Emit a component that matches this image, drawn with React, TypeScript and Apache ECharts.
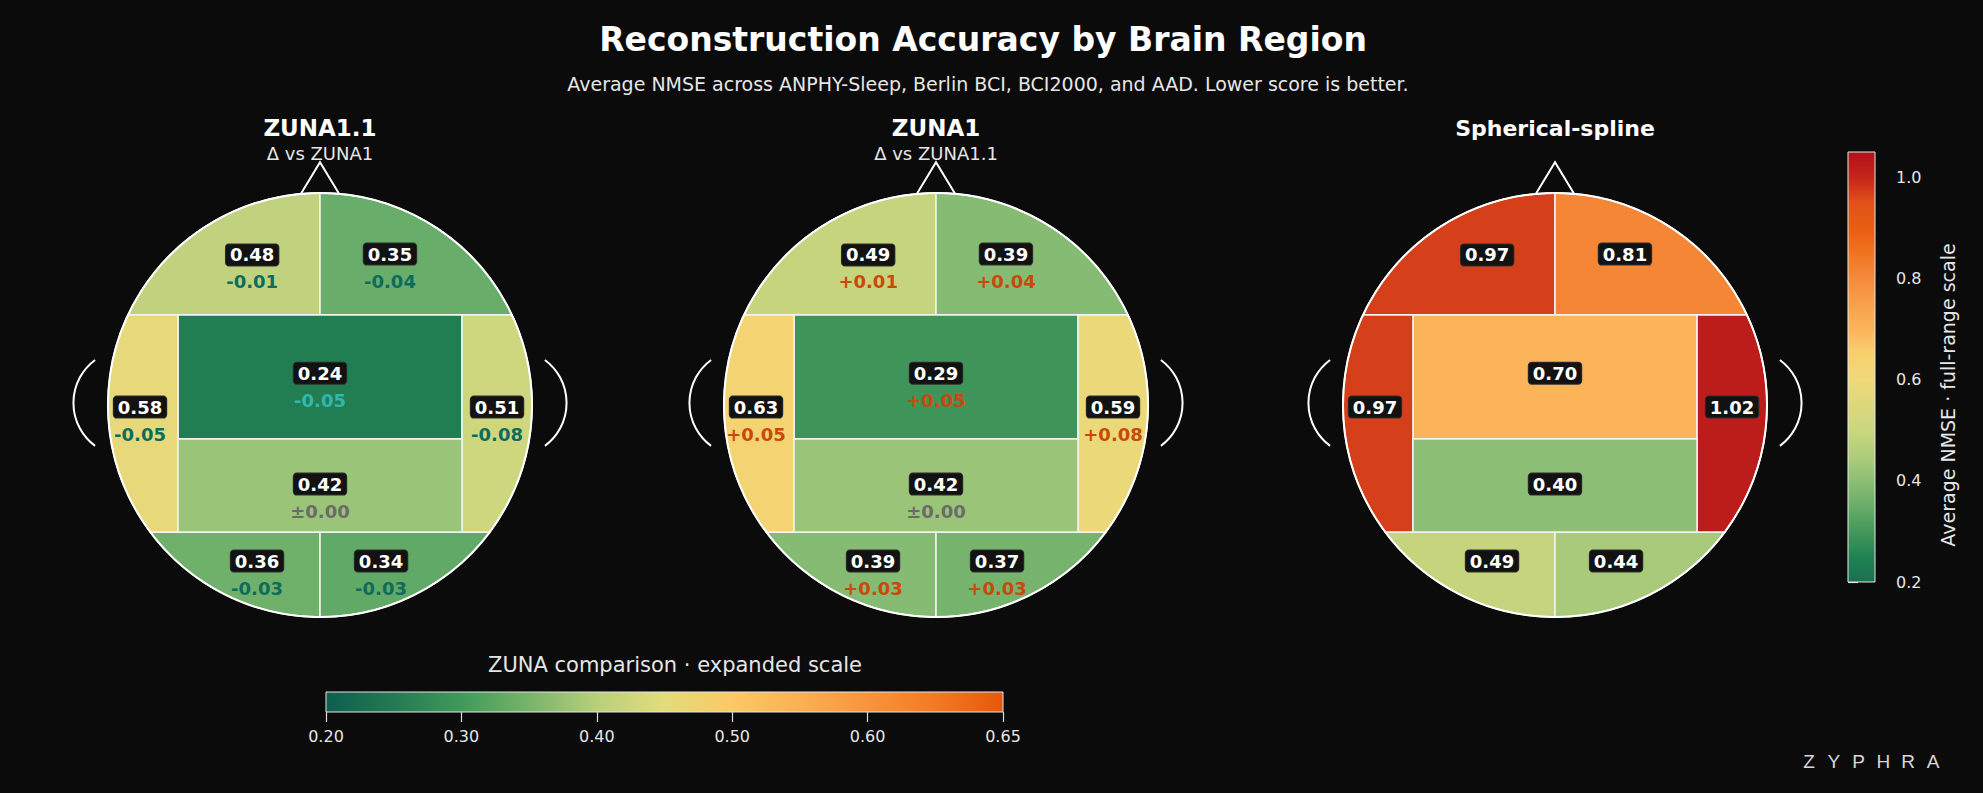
import React, { useEffect, useRef } from "react";
import * as echarts from "echarts";

// ---------------- data ----------------
const regionNames = [
  "Frontal L",
  "Frontal R",
  "Central",
  "Temporal L",
  "Temporal R",
  "Parietal",
  "Occipital L",
  "Occipital R",
];
const zuna11Values = [0.48, 0.35, 0.24, 0.58, 0.51, 0.42, 0.36, 0.34];
const zuna1Values = [0.49, 0.39, 0.29, 0.63, 0.59, 0.42, 0.39, 0.37];
const splineValues = [0.97, 0.81, 0.7, 0.97, 1.02, 0.4, 0.49, 0.44];

const panelTitles = ["ZUNA1.1", "ZUNA1", "Spherical-spline"];
const panelSubtitles = ["Δ vs ZUNA1", "Δ vs ZUNA1.1", ""];

const fullRangeMin = 0.2;
const fullRangeMax = 1.05;
const fullRangeTicks = [0.2, 0.4, 0.6, 0.8, 1.0];
const fullRangeName = "Average NMSE · full-range scale";
// colours every 0.05 from 0.20 to 1.05
const fullRangeColors = [
  "#1a7050", "#218253", "#45985b", "#68ad69", "#8cbe75", "#b0cd7b",
  "#cad67e", "#dcd87c", "#efd978", "#f8d06e", "#fbb45a", "#f8a04c",
  "#f58a3c", "#f07420", "#e85e12", "#e0521a", "#c4241a", "#b0121a",
];
const expandedTickLabels = ["0.20", "0.30", "0.40", "0.50", "0.60", "0.65"];
const expandedColors = [
  "#0d5e4f", "#237a52", "#3f9a5a", "#78b46a", "#b8d07a", "#e3dc7c",
  "#fcc865", "#fbb054", "#f8943c", "#f37a22", "#e8560c",
];

// ---------------- layout ----------------
const FONT = '"DejaVu Sans", sans-serif';
const HEAD_CX = [320, 936, 1555];
const HEAD_CY = 405;
const HEAD_R = 212;
const YT = -0.425; // bottom of frontal band
const YM = 0.16; // central / parietal split
const YB = 0.6; // bottom of middle band
const XI = 0.67; // temporal inner edge

const labelAnchors: number[][] = [
  [-0.32, -0.708],
  [0.33, -0.712],
  [0, -0.15],
  [-0.849, 0.01],
  [0.835, 0.01],
  [0, 0.373],
  [-0.297, 0.736],
  [0.288, 0.736],
];

const DEG = Math.PI / 180;
const aT = Math.asin(-YT) / DEG;
const aB = Math.asin(YB) / DEG;

function arcPts(a0: number, a1: number, n = 60): number[][] {
  const pts: number[][] = [];
  for (let i = 0; i <= n; i++) {
    const a = (a0 + ((a1 - a0) * i) / n) * DEG;
    pts.push([Math.cos(a), Math.sin(a)]);
  }
  return pts;
}

function regionShape(i: number): number[][] {
  switch (i) {
    case 0:
      return [...arcPts(270, 180 + aT), [0, YT]];
    case 1:
      return [...arcPts(270, 360 - aT), [0, YT]];
    case 2:
      return [[-XI, YT], [XI, YT], [XI, YM], [-XI, YM]];
    case 3:
      return [...arcPts(180 + aT, 180 - aB), [-XI, YB], [-XI, YT]];
    case 4:
      return [...arcPts(-aT, aB), [XI, YB], [XI, YT]];
    case 5:
      return [[-XI, YM], [XI, YM], [XI, YB], [-XI, YB]];
    case 6:
      return [...arcPts(180 - aB, 90), [0, YB]];
    default:
      return [...arcPts(aB, 90), [0, YB]];
  }
}

function diff(a: number[], b: number[]) {
  return a.map((v, i) => Math.round((v - b[i]) * 100) / 100);
}
function fmtDelta(d: number) {
  if (Math.abs(d) < 1e-9) return "±0.00";
  return (d > 0 ? "+" : "-") + Math.abs(d).toFixed(2);
}
function deltaColor(d: number, v: number) {
  if (Math.abs(d) < 1e-9) return "#6b6b6b";
  if (d > 0) return "#c9490c";
  return v < 0.28 ? "#34b5ae" : "#0f6b5c";
}

function makeRegionRenderer(deltas: number[] | null) {
  return (params: any, api: any) => {
    const idx = api.value(0) as number;
    const val = api.value(1) as number;
    const pts = regionShape(idx).map((p) => api.coord(p));
    const a = api.coord(labelAnchors[idx]);
    const children: any[] = [
      {
        type: "polygon",
        shape: { points: pts },
        style: { fill: api.visual("color"), stroke: "#f2f2f2", lineWidth: 1.6 },
      },
      {
        type: "text",
        x: a[0],
        y: a[1],
        z2: 10,
        style: {
          text: val.toFixed(2),
          fill: "#ffffff",
          fontSize: 18,
          fontWeight: "bold",
          fontFamily: FONT,
          align: "center",
          verticalAlign: "middle",
          backgroundColor: "#121212",
          borderColor: "#2e2e2e",
          borderWidth: 1,
          borderRadius: 3,
          padding: [2, 4, 1, 4],
        },
      },
    ];
    if (deltas) {
      const d = deltas[idx];
      children.push({
        type: "text",
        x: a[0],
        y: a[1] + 27,
        z2: 10,
        style: {
          text: fmtDelta(d),
          fill: deltaColor(d, val),
          fontSize: 18,
          fontWeight: "bold",
          fontFamily: FONT,
          align: "center",
          verticalAlign: "middle",
        },
      });
    }
    return { type: "group", children };
  };
}

const outlineRender = (params: any, api: any) => {
  const c = api.coord([0, 0]);
  const u = Math.abs(api.size([1, 1])[0]);
  const nose = [
    [-0.09, -0.996],
    [0, -1.145],
    [0.09, -0.996],
  ].map((p) => api.coord(p));
  const le = api.coord([-0.911, -0.01]);
  const re = api.coord([0.911, -0.01]);
  const er = 0.252 * u;
  const line = { fill: "none", stroke: "#ffffff", lineWidth: 2 };
  return {
    type: "group",
    children: [
      { type: "circle", shape: { cx: c[0], cy: c[1], r: u }, style: { ...line } },
      { type: "polyline", shape: { points: nose }, style: { ...line } },
      {
        type: "arc",
        shape: { cx: le[0], cy: le[1], r: er, startAngle: 126.5 * DEG, endAngle: 233.5 * DEG, clockwise: true },
        style: { ...line },
      },
      {
        type: "arc",
        shape: { cx: re[0], cy: re[1], r: er, startAngle: -53.5 * DEG, endAngle: 53.5 * DEG, clockwise: true },
        style: { ...line },
      },
    ],
  };
};

const vbarRender = (params: any) => {
  const cs = params.coordSys;
  const stops = fullRangeColors.map((c, i) => ({ offset: i / (fullRangeColors.length - 1), color: c }));
  return {
    type: "rect",
    shape: { x: cs.x, y: cs.y, width: cs.width, height: cs.height },
    style: { fill: new echarts.graphic.LinearGradient(0, 1, 0, 0, stops), stroke: "#e6e6e6", lineWidth: 1 },
  };
};
const hbarRender = (params: any) => {
  const cs = params.coordSys;
  const stops = expandedColors.map((c, i) => ({ offset: i / (expandedColors.length - 1), color: c }));
  return {
    type: "rect",
    shape: { x: cs.x, y: cs.y, width: cs.width, height: cs.height },
    style: { fill: new echarts.graphic.LinearGradient(0, 0, 1, 0, stops), stroke: "#e6e6e6", lineWidth: 1 },
  };
};

function txt(x: number, y: number, text: string, size: number, weight: string, color: string, family = FONT) {
  return {
    type: "text",
    x,
    y,
    style: {
      text,
      fill: color,
      fontSize: size,
      fontWeight: weight,
      fontFamily: family,
      align: "center",
      textAlign: "center",
      verticalAlign: "middle",
      textVerticalAlign: "middle",
    },
  };
}

export default function App() {
  const ref = useRef<HTMLDivElement>(null);
  useEffect(() => {
    if (!ref.current) return;
    document.body.style.background = "#0b0b0b";
    const chart = echarts.init(ref.current, null, { renderer: "svg" });

    const panels = [zuna11Values, zuna1Values, splineValues];
    const deltas = [diff(zuna11Values, zuna1Values), diff(zuna1Values, zuna11Values), null];

    const grids: any[] = HEAD_CX.map((cx) => ({
      left: cx - HEAD_R,
      top: HEAD_CY - HEAD_R,
      width: HEAD_R * 2,
      height: HEAD_R * 2,
    }));
    grids.push({ left: 1848, top: 152, width: 27, height: 430 });
    grids.push({ left: 326, top: 692, width: 677, height: 20 });

    const xAxes: any[] = HEAD_CX.map((_, i) => ({ type: "value", gridIndex: i, min: -1, max: 1, show: false }));
    const yAxes: any[] = HEAD_CX.map((_, i) => ({
      type: "value",
      gridIndex: i,
      min: -1,
      max: 1,
      inverse: true,
      show: false,
    }));
    xAxes.push({ type: "value", gridIndex: 3, min: 0, max: 1, show: false });
    yAxes.push({
      type: "value",
      gridIndex: 3,
      min: fullRangeMin,
      max: fullRangeMax,
      position: "right",
      axisLine: { show: false },
      splitLine: { show: false },
      axisTick: { show: true, length: 10, customValues: fullRangeTicks, lineStyle: { color: "#dddddd", width: 1.2 } },
      axisLabel: {
        customValues: fullRangeTicks,
        formatter: (v: number) => v.toFixed(1),
        color: "#e6e6e6",
        fontSize: 16,
        fontFamily: FONT,
        margin: 21,
      },
    });
    xAxes.push({
      type: "category",
      gridIndex: 4,
      data: expandedTickLabels,
      boundaryGap: false,
      axisLine: { show: false },
      splitLine: { show: false },
      axisTick: { show: true, length: 10, interval: 0, lineStyle: { color: "#dddddd", width: 1.2 } },
      axisLabel: { interval: 0, color: "#e6e6e6", fontSize: 16, fontFamily: FONT, margin: 16 },
    });
    yAxes.push({ type: "value", gridIndex: 4, min: 0, max: 1, show: false });

    const series: any[] = [];
    panels.forEach((vals, i) => {
      series.push({
        type: "custom",
        name: panelTitles[i],
        xAxisIndex: i,
        yAxisIndex: i,
        renderItem: makeRegionRenderer(deltas[i]),
        data: vals.map((v, k) => ({ name: regionNames[k], value: [k, v] })),
        silent: true,
      });
    });
    panels.forEach((_, i) => {
      series.push({
        type: "custom",
        xAxisIndex: i,
        yAxisIndex: i,
        renderItem: outlineRender,
        data: [[0, 0]],
        silent: true,
        z: 5,
      });
    });
    series.push({ type: "custom", xAxisIndex: 3, yAxisIndex: 3, renderItem: vbarRender, data: [[0, 0.5]], silent: true });
    series.push({ type: "custom", xAxisIndex: 4, yAxisIndex: 4, renderItem: hbarRender, data: [[0, 0.5]], silent: true });

    const graphics: any[] = [
      txt(983, 39, "Reconstruction Accuracy by Brain Region", 33, "bold", "#ffffff"),
      txt(988, 84, "Average NMSE across ANPHY-Sleep, Berlin BCI, BCI2000, and AAD. Lower score is better.", 19, "normal", "#e6e6e6"),
      txt(675, 665, "ZUNA comparison · expanded scale", 21, "normal", "#e6e6e6"),
      { ...txt(1948, 395, fullRangeName, 19, "normal", "#e6e6e6"), rotation: Math.PI / 2 },
    ];
    HEAD_CX.forEach((cx, i) => {
      graphics.push(txt(cx, 128, panelTitles[i], i === 2 ? 22 : 23, "bold", "#ffffff"));
      if (panelSubtitles[i]) graphics.push(txt(cx, 153, panelSubtitles[i], 18, "normal", "#e6e6e6"));
    });
    "ZYPHRA".split("").forEach((ch, i) => {
      graphics.push(txt(1809 + i * 24.8, 761, ch, 19, "normal", "#d8d8d8", '"Liberation Sans", sans-serif'));
    });

    chart.setOption({
      animation: false,
      backgroundColor: "#0b0b0b",
      grid: grids,
      xAxis: xAxes,
      yAxis: yAxes,
      visualMap: [
        {
          type: "continuous",
          show: false,
          min: fullRangeMin,
          max: fullRangeMax,
          dimension: 1,
          seriesIndex: [0, 1, 2],
          inRange: { color: fullRangeColors },
        },
      ],
      series,
      graphic: graphics,
    });
    return () => chart.dispose();
  }, []);
  return (
    <div
      ref={ref}
      style={{ position: "absolute", left: 0, top: 0, width: 1983, height: 793, background: "#0b0b0b" }}
    />
  );
}
